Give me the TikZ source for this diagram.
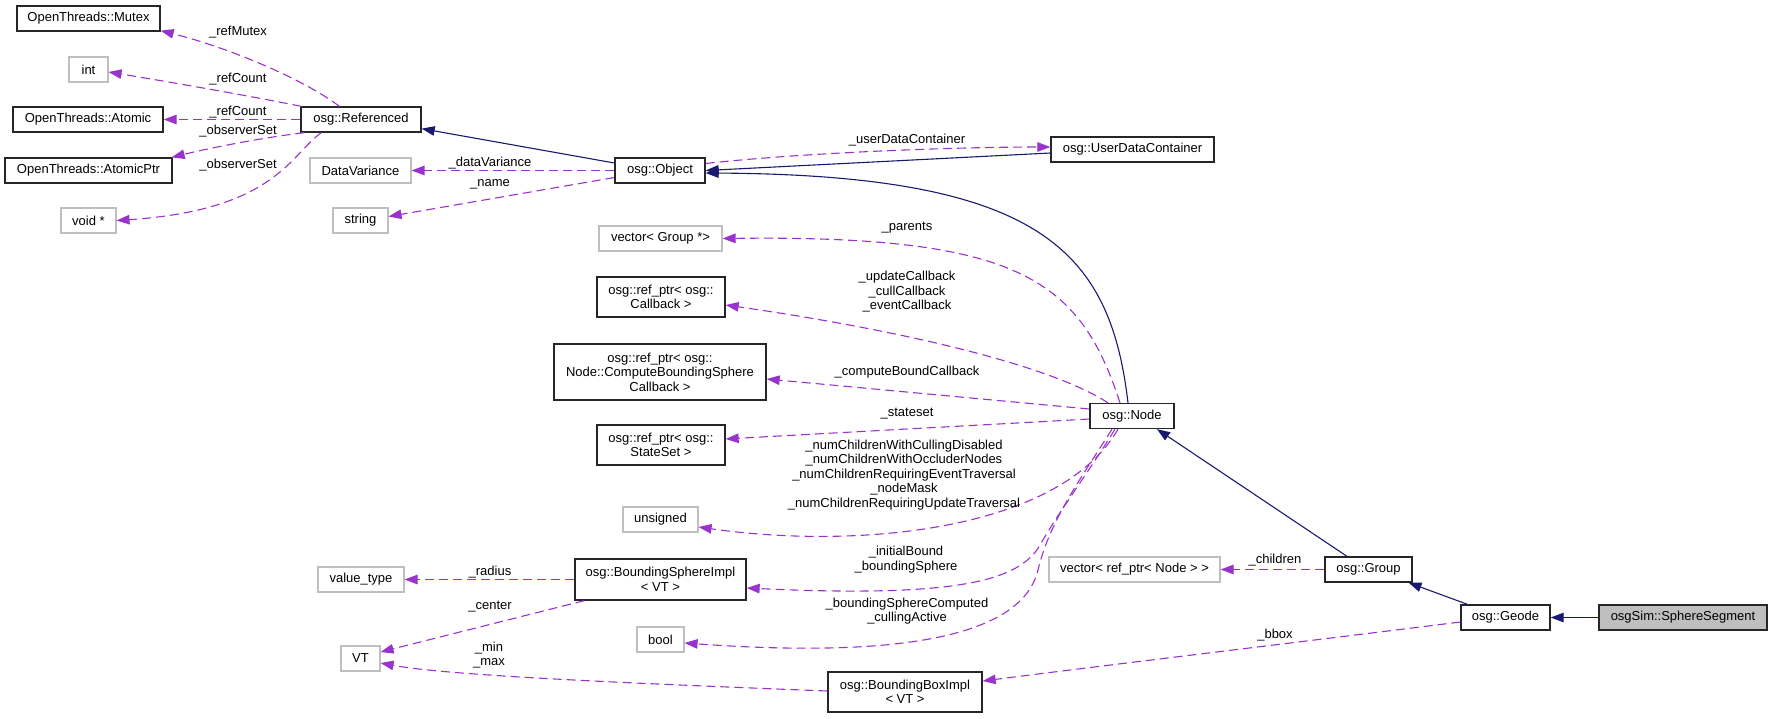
\documentclass[tikz,border=0pt]{standalone}
\usepackage{fontspec}
\setmainfont{Liberation Sans}
\usetikzlibrary{arrows.meta}
\definecolor{orchid}{HTML}{9A32CD}
\definecolor{mblue}{HTML}{191970}
\definecolor{gborder}{HTML}{BFBFBF}
\definecolor{sfill}{HTML}{BFBFBF}
\newcommand\dxfont{\fontsize{13}{14.5}\selectfont}
\begin{document}
\begin{tikzpicture}[x=1pt,y=-1pt,
  box/.style={draw=black!85, line width=1.3pt, fill=white, inner sep=0pt, font=\dxfont, align=center, minimum height=25pt},
  gbox/.style={box, draw=gborder, line width=1.1pt},
  lbl/.style={font=\dxfont, inner sep=0pt, align=center},
  dep/.style={draw=orchid, line width=1.1pt, dash pattern=on 9pt off 5pt, -{Triangle[length=13pt,width=9.5pt]}},
  inh/.style={draw=mblue, line width=1.1pt, -{Triangle[length=13pt,width=9.5pt]}}]
\useasboundingbox (0,0) rectangle (1772,718);

% nodes
\node[box, minimum width=143pt] (mutex) at (88.5,18.5) {OpenThreads::Mutex};
\node[gbox, minimum width=39pt] (int) at (88.5,69.5) {int};
\node[box, minimum width=150pt] (atomic) at (88,119.5) {OpenThreads::Atomic};
\node[box, minimum width=167pt] (atomicptr) at (88.5,170.5) {OpenThreads::AtomicPtr};
\node[gbox, minimum width=55pt] (voidp) at (88.5,220.5) {void *};
\node[box, minimum width=120pt] (referenced) at (361,119.5) {osg::Referenced};
\node[gbox, minimum width=101pt] (datavar) at (360.5,170.5) {DataVariance};
\node[gbox, minimum width=55pt] (string) at (360.5,220.5) {string};
\node[box, minimum width=90pt] (object) at (660,170.5) {osg::Object};
\node[box, minimum width=163pt] (udc) at (1132.5,149.5) {osg::UserDataContainer};
\node[gbox, minimum width=123pt] (vecgroup) at (660.5,238.5) {vector< Group *>};
\node[box, minimum width=128pt, minimum height=40pt] (callback) at (661,297) {osg::ref\_ptr< osg::\\Callback >};
\node[box, minimum width=212pt, minimum height=56pt] (compbs) at (660,372) {osg::ref\_ptr< osg::\\Node::ComputeBoundingSphere\\Callback >};
\node[box, minimum width=128pt, minimum height=40pt] (stateset) at (661,445) {osg::ref\_ptr< osg::\\StateSet >};
\node[gbox, minimum width=75pt] (unsigned) at (660.5,519.5) {unsigned};
\node[box, minimum width=171pt, minimum height=41pt] (bsi) at (660.5,579.5) {osg::BoundingSphereImpl\\< VT >};
\node[gbox, minimum width=47pt] (bool) at (660.5,639.5) {bool};
\node[box, minimum width=154pt, minimum height=40pt] (bbi) at (905,692) {osg::BoundingBoxImpl\\< VT >};
\node[gbox, minimum width=86pt] (valuetype) at (361,579.5) {value\_type};
\node[gbox, minimum width=39pt] (vt) at (360.5,658.5) {VT};
\node[box, minimum width=84pt] (node) at (1132,416) {osg::Node};
\node[gbox, minimum width=171pt] (vecnode) at (1134.5,569.5) {vector< ref\_ptr< Node > >};
\node[box, minimum width=87pt] (group) at (1368.5,569.5) {osg::Group};
\node[box, minimum width=89pt] (geode) at (1505.5,617.5) {osg::Geode};
\node[box, minimum width=168pt, fill=sfill] (sphere) at (1683,617.5) {osgSim::SphereSegment};

% edges
\draw[dep] ([xshift=39pt]referenced.north west) .. controls (305,80) and (230,48) .. ([yshift=1pt]mutex.south east);
\draw[dep] ([xshift=1pt]referenced.north west) .. controls (250,96) and (170,82) .. ([yshift=-2.5pt]int.east);
\draw[dep] (referenced.west) -- (atomic.east);
\draw[dep] ([xshift=4pt]referenced.south west) .. controls (260,138) and (210,148) .. ([xshift=-1pt]atomicptr.north east);
\draw[dep] ([xshift=21pt]referenced.south west) .. controls (290,155) and (275,210) .. (voidp.east);

\draw[inh] ([yshift=7.5pt]object.west) -- ([yshift=4pt]referenced.south east);
\draw[dep] (object.west) -- (datavar.east);
\draw[dep] ([yshift=-7pt]object.west) -- ([yshift=4pt]string.east);

\draw[inh] ([yshift=-3.5pt]udc.west) -- (object.east);
\draw[dep] ([yshift=7pt]object.east) .. controls (800,153) and (950,147) .. ([yshift=2.5pt]udc.west);
\draw[inh] ([xshift=-4pt]node.north) .. controls (1110,250) and (1040,175) .. ([yshift=-2.5pt]object.east);

\draw[dep] ([xshift=-12pt]node.north) .. controls (1080,280) and (1020,235) .. (vecgroup.east);
\draw[dep] ([xshift=-24pt]node.north) .. controls (1050,365) and (900,330) .. ([yshift=-8pt]callback.east);
\draw[dep] ([yshift=7pt]node.west) -- ([yshift=-7pt]compbs.east);
\draw[dep] ([yshift=-3pt]node.west) .. controls (1000,424) and (850,432) .. ([yshift=6pt]stateset.east);

\draw[dep] ([xshift=-14pt]node.south) .. controls (1060,530) and (860,550) .. ([yshift=-7.5pt]unsigned.east);
\draw[dep] ([xshift=-17pt]node.south) .. controls (1090,470) and (1060,510) .. (1040,545) .. controls (1020,580) and (960,598) .. ([yshift=-8.5pt]bsi.east);
\draw[dep] ([xshift=-20pt]node.south) .. controls (1080,480) and (1050,520) .. (1038,570) .. controls (1026,620) and (950,662) .. ([yshift=-3.5pt]bool.east);

\draw[inh] ([xshift=-21.5pt]group.north) -- ([xshift=25pt]node.south);
\draw[dep] (group.west) -- (vecnode.east);
\draw[inh] ([xshift=-38pt]geode.north) -- ([xshift=40pt]group.south);
\draw[inh] (sphere.west) -- (geode.east);
\draw[dep] ([yshift=-4.5pt]geode.west) .. controls (1300,642) and (1100,666) .. ([yshift=11pt]bbi.east);

\draw[dep] (bsi.west) -- (valuetype.east);
\draw[dep] ([xshift=10pt]bsi.south west) -- ([yshift=6.5pt]vt.east);
\draw[dep] ([yshift=1pt]bbi.west) .. controls (650,684) and (450,676) .. ([yshift=-4.5pt]vt.east);

% labels
\node[lbl] (l1) at (238,32) {\_refMutex};
\node[lbl] (l2) at (238,79) {\_refCount};
\node[lbl] (l3) at (238,112) {\_refCount};
\node[lbl] (l4) at (238,131) {\_observerSet};
\node[lbl] (l5) at (238,165) {\_observerSet};
\node[lbl] (l6) at (490,163) {\_dataVariance};
\node[lbl] (l7) at (490,184) {\_name};
\node[lbl] (l8) at (907,140) {\_userDataContainer};
\node[lbl] (l9) at (907,228) {\_parents};
\node[lbl] (l10) at (907,292) {\_updateCallback\\\_cullCallback\\\_eventCallback};
\node[lbl] (l11) at (907,372) {\_computeBoundCallback};
\node[lbl] (l12) at (907,414) {\_stateset};
\node[lbl] (l13) at (904,475) {\_numChildrenWithCullingDisabled\\\_numChildrenWithOccluderNodes\\\_numChildrenRequiringEventTraversal\\\_nodeMask\\\_numChildrenRequiringUpdateTraversal};
\node[lbl] (l14) at (906,559.5) {\_initialBound\\\_boundingSphere};
\node[lbl] (l15) at (907,611) {\_boundingSphereComputed\\\_cullingActive};
\node[lbl] (l16) at (1275,560) {\_children};
\node[lbl] (l17) at (1275,635) {\_bbox};
\node[lbl] (l18) at (490,572) {\_radius};
\node[lbl] (l19) at (490,607) {\_center};
\node[lbl] (l20) at (489,655) {\_min\\\_max};
\end{tikzpicture}
\end{document}
